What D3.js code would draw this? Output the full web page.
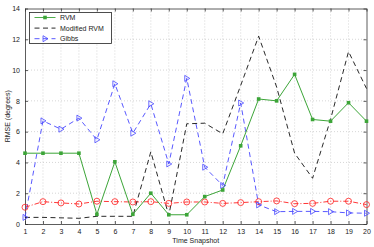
<!DOCTYPE html>
<html>
<head>
<meta charset="utf-8">
<script src="https://cdn.jsdelivr.net/npm/d3@7"></script>
<style>
  html, body { margin: 0; padding: 0; background: #fff; }
  svg { display: block; }
</style>
</head>
<body>
<div id="chart"></div>
<script>
// RMSE per time snapshot
const snapshots = d3.range(1, 21);
const rvm = [4.6, 4.6, 4.6, 4.6, 0.63, 4.04, 0.63, 2.0, 0.6, 0.6, 1.78, 2.21, 5.08, 8.12, 8.0, 9.72, 6.79, 6.68, 7.88, 6.68];
const modifiedRvm = [0.43, 0.43, 0.4, 0.37, 0.5, 0.5, 0.5, 4.69, 0.55, 6.51, 6.55, 5.86, 9.0, 12.2, 8.9, 4.6, 2.97, 6.8, 11.2, 8.8];
const gibbs = [0.43, 6.7, 6.16, 6.88, 5.47, 9.11, 5.9, 7.81, 3.9, 9.46, 3.69, 2.5, 7.86, 1.24, 0.8, 0.82, 0.82, 0.8, 0.72, 0.7];
const baseline = [1.09, 1.45, 1.37, 1.3, 1.48, 1.45, 1.43, 1.45, 1.34, 1.43, 1.43, 1.34, 1.39, 1.45, 1.5, 1.32, 1.34, 1.48, 1.48, 1.26];
const yTicks = [0, 2, 4, 6, 8, 10, 12, 14];

const GREEN = "#3ca538";
const BLUE = "#4646ff";
const RED = "#ff2020";

const width = 374, height = 247;
const margin = { top: 8.5, right: 7.5, bottom: 23, left: 25 };
const innerW = width - margin.left - margin.right;
const innerH = height - margin.top - margin.bottom;

const svg = d3.select("#chart").append("svg")
  .attr("width", width)
  .attr("height", height)
  .attr("font-family", "'Liberation Sans', Arial, sans-serif");

svg.append("rect").attr("width", width).attr("height", height).attr("fill", "#fff");

const g = svg.append("g").attr("transform", `translate(${margin.left},${margin.top})`);

const x = d3.scaleLinear().domain([1, 20]).range([0, innerW]);
const y = d3.scaleLinear().domain([0, 14]).range([innerH, 0]);

// dotted grid
g.append("g").selectAll("line").data(snapshots.slice(1, -1)).join("line")
  .attr("x1", d => x(d)).attr("x2", d => x(d))
  .attr("y1", 0).attr("y2", innerH)
  .attr("stroke", "#bbb").attr("stroke-width", 0.6).attr("stroke-dasharray", "1,2");
g.append("g").selectAll("line").data(yTicks.slice(1, -1)).join("line")
  .attr("x1", 0).attr("x2", innerW)
  .attr("y1", d => y(d)).attr("y2", d => y(d))
  .attr("stroke", "#bbb").attr("stroke-width", 0.6).attr("stroke-dasharray", "1,2");

// axes (box with inward ticks)
function styleAxis(sel) {
  sel.select(".domain").attr("stroke", "#333").attr("stroke-width", 0.8);
  sel.selectAll(".tick line").attr("stroke", "#333").attr("stroke-width", 0.8);
  sel.selectAll("text").attr("font-size", 7).attr("fill", "#222");
}
g.append("g").attr("transform", `translate(0,${innerH})`)
  .call(d3.axisBottom(x).tickValues(snapshots).tickFormat(d3.format("d")).tickSizeInner(-3).tickSizeOuter(0).tickPadding(5))
  .call(styleAxis);
g.append("g")
  .call(d3.axisLeft(y).tickValues(yTicks).tickSizeInner(-3).tickSizeOuter(0).tickPadding(5))
  .call(styleAxis);
g.append("g")
  .call(d3.axisTop(x).tickValues(snapshots).tickFormat("").tickSizeInner(-3).tickSizeOuter(0))
  .call(styleAxis);
g.append("g").attr("transform", `translate(${innerW},0)`)
  .call(d3.axisRight(y).tickValues(yTicks).tickFormat("").tickSizeInner(-3).tickSizeOuter(0))
  .call(styleAxis);

const line = d3.line().x((d, i) => x(snapshots[i])).y(d => y(d));

// series lines
g.append("path").datum(baseline).attr("d", line)
  .attr("fill", "none").attr("stroke", RED).attr("stroke-width", 0.9).attr("stroke-dasharray", "5,2,1,2");
g.append("path").datum(modifiedRvm).attr("d", line)
  .attr("fill", "none").attr("stroke", "#111").attr("stroke-width", 0.9).attr("stroke-dasharray", "5,3.5");
g.append("path").datum(gibbs).attr("d", line)
  .attr("fill", "none").attr("stroke", BLUE).attr("stroke-width", 0.9).attr("stroke-dasharray", "5,3.5");
g.append("path").datum(rvm).attr("d", line)
  .attr("fill", "none").attr("stroke", GREEN).attr("stroke-width", 1);

// markers
const tri = "M-2,-3L3,0L-2,3Z";
g.append("g").selectAll("circle").data(baseline).join("circle")
  .attr("cx", (d, i) => x(snapshots[i])).attr("cy", d => y(d)).attr("r", 3)
  .attr("fill", "none").attr("stroke", RED).attr("stroke-width", 0.8);
g.append("g").selectAll("path").data(gibbs).join("path")
  .attr("transform", (d, i) => `translate(${x(snapshots[i])},${y(d)})`)
  .attr("d", tri).attr("fill", "none").attr("stroke", BLUE).attr("stroke-width", 0.8);
g.append("g").selectAll("rect").data(rvm).join("rect")
  .attr("x", (d, i) => x(snapshots[i]) - 1.8).attr("y", d => y(d) - 1.8)
  .attr("width", 3.6).attr("height", 3.6).attr("fill", GREEN);

// axis labels
svg.append("text").attr("x", margin.left + innerW / 2).attr("y", 243)
  .attr("text-anchor", "middle").attr("font-size", 7).attr("fill", "#222").text("Time Snapshot");
svg.append("text").attr("transform", `translate(10,${margin.top + innerH / 2}) rotate(-90)`)
  .attr("text-anchor", "middle").attr("font-size", 7).attr("fill", "#222").text("RMSE (degrees)");

// legend
const legend = svg.append("g").attr("transform", "translate(29.5,12.5)");
legend.append("rect").attr("width", 82).attr("height", 31)
  .attr("fill", "#fff").attr("stroke", "#222").attr("stroke-width", 0.8);
const entries = [
  { label: "RVM", color: GREEN, dash: null, marker: "square" },
  { label: "Modified RVM", color: "#111", dash: "5,3.5", marker: null },
  { label: "Gibbs", color: BLUE, dash: "5,3.5", marker: "tri" }
];
entries.forEach((e, i) => {
  const ly = 5 + i * 10.6;
  legend.append("line").attr("x1", 5).attr("x2", 26).attr("y1", ly).attr("y2", ly)
    .attr("stroke", e.color).attr("stroke-width", 0.9).attr("stroke-dasharray", e.dash);
  if (e.marker === "square") {
    legend.append("rect").attr("x", 15.5 - 1.8).attr("y", ly - 1.8).attr("width", 3.6).attr("height", 3.6).attr("fill", e.color);
  } else if (e.marker === "tri") {
    legend.append("path").attr("transform", `translate(15.5,${ly})`).attr("d", tri)
      .attr("fill", "none").attr("stroke", e.color).attr("stroke-width", 0.8);
  }
  legend.append("text").attr("x", 30.5).attr("y", ly + 2.5).attr("font-size", 7).attr("fill", "#222").text(e.label);
});
</script>
</body>
</html>
